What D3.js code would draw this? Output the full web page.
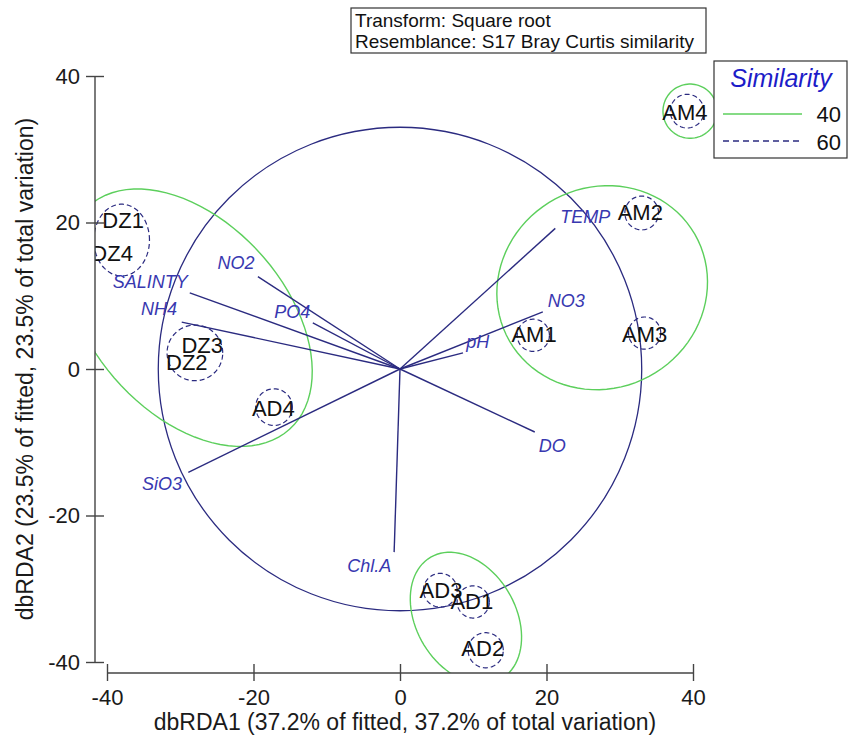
<!DOCTYPE html>
<html>
<head>
<meta charset="utf-8">
<script src="https://cdn.jsdelivr.net/npm/d3@7"></script>
<style>
  body { margin: 0; background: #fff; }
  svg { display: block; font-family: "Liberation Sans", Arial, sans-serif; }
</style>
</head>
<body>
<div id="chart"></div>
<script>
// samples (dbRDA1, dbRDA2)
var sampleNames = ["DZ1", "DZ4", "DZ3", "DZ2", "AD4", "AM1", "AM2", "AM3", "AM4", "AD3", "AD1", "AD2"];
var sampleX = [-37.8, -39.3, -27.0, -29.1, -17.3, 18.3, 32.8, 33.4, 38.9, 5.6, 9.8, 11.3];
var sampleY = [20.3, 15.8, 3.3, 1.0, -5.3, 4.8, 21.4, 4.8, 35.1, -30.2, -31.7, -38.1];

// environmental vectors
var vectorNames = ["TEMP", "NO3", "pH", "DO", "Chl.A", "SiO3", "NH4", "SALINTY", "NO2", "PO4"];
var vectorX = [21.2, 19.5, 8.6, 18.4, -0.8, -28.9, -29.8, -28.7, -19.4, -11.9];
var vectorY = [19.2, 7.8, 2.2, -8.6, -25.0, -14.1, 6.4, 10.4, 12.6, 6.3];
var vectorLabelX = [25.3, 22.7, 10.6, 20.8, -4.2, -32.5, -32.9, -34.1, -22.4, -14.7];
var vectorLabelY = [20.8, 9.4, 3.8, -10.5, -26.8, -15.7, 8.3, 11.9, 14.5, 7.9];

// correlation circle radius
var circleRadius = 33.0;

// similarity contours: centre x, centre y, semi axis a, semi axis b, angle (deg)
var sim40 = [
  [-28.8, 7.0, 20.5, 13.1, -48],
  [27.6, 11.1, 14.6, 13.7, 30],
  [9.0, -34.0, 9.6, 6.8, -60],
  [39.6, 35.2, 3.7, 3.7, 0]
];
var sim60 = [
  [-38.0, 17.6, 3.8, 4.9, 0],
  [-28.0, 2.2, 3.8, 3.8, 0],
  [-17.2, -5.2, 2.5, 2.5, 0],
  [18.2, 4.6, 2.2, 2.2, 0],
  [33.0, 21.3, 2.3, 2.3, 0],
  [33.4, 4.9, 2.2, 2.2, 0],
  [39.2, 35.2, 2.3, 2.3, 0],
  [5.5, -30.2, 2.3, 2.3, 0],
  [10.0, -31.8, 2.2, 2.2, 0],
  [11.7, -38.4, 2.4, 2.4, 0]
];

var ticks = [-40, -20, 0, 20, 40];
var legendLevels = ["40", "60"];

var W = 851, H = 738;
var green = "#5ccf5c", navy = "#2b2b80", labelBlue = "#3838b0";

var x = d3.scaleLinear().domain([-40, 40]).range([107, 693]);
var y = d3.scaleLinear().domain([-40, 40]).range([662, 76]);

var svg = d3.select("#chart").append("svg")
  .attr("width", W)
  .attr("height", H);

svg.append("clipPath").attr("id", "plotclip")
  .append("rect").attr("x", 95).attr("y", 0).attr("width", W - 95).attr("height", 673);

var plot = svg.append("g").attr("clip-path", "url(#plotclip)");

function ellipsePath(e) {
  var pts = [];
  var th = e[4] * Math.PI / 180;
  for (var i = 0; i < 90; i++) {
    var t = i / 90 * 2 * Math.PI;
    var u = e[2] * Math.cos(t), v = e[3] * Math.sin(t);
    pts.push([x(e[0] + u * Math.cos(th) - v * Math.sin(th)),
              y(e[1] + u * Math.sin(th) + v * Math.cos(th))]);
  }
  return d3.line().curve(d3.curveLinearClosed)(pts);
}

// correlation circle
plot.append("ellipse")
  .attr("cx", x(0)).attr("cy", y(0))
  .attr("rx", x(circleRadius) - x(0))
  .attr("ry", y(0) - y(circleRadius))
  .attr("fill", "none")
  .attr("stroke", navy)
  .attr("stroke-width", 1.3);

plot.selectAll("path.sim40")
  .data(sim40)
  .enter().append("path")
  .attr("class", "sim40")
  .attr("d", ellipsePath)
  .attr("fill", "none")
  .attr("stroke", green)
  .attr("stroke-width", 1.4);

plot.selectAll("path.sim60")
  .data(sim60)
  .enter().append("path")
  .attr("class", "sim60")
  .attr("d", ellipsePath)
  .attr("fill", "none")
  .attr("stroke", navy)
  .attr("stroke-width", 1.2)
  .attr("stroke-dasharray", "5,3");

// vectors
plot.selectAll("line.vec")
  .data(vectorNames)
  .enter().append("line")
  .attr("class", "vec")
  .attr("x1", x(0)).attr("y1", y(0))
  .attr("x2", function(d, i) { return x(vectorX[i]); })
  .attr("y2", function(d, i) { return y(vectorY[i]); })
  .attr("stroke", navy)
  .attr("stroke-width", 1.4);

plot.selectAll("text.vec")
  .data(vectorNames)
  .enter().append("text")
  .attr("class", "vec")
  .attr("x", function(d, i) { return x(vectorLabelX[i]); })
  .attr("y", function(d, i) { return y(vectorLabelY[i]); })
  .attr("dy", "0.36em")
  .attr("text-anchor", "middle")
  .attr("font-size", "18px")
  .attr("font-style", "italic")
  .attr("fill", labelBlue)
  .text(String);

plot.selectAll("text.sample")
  .data(sampleNames)
  .enter().append("text")
  .attr("class", "sample")
  .attr("x", function(d, i) { return x(sampleX[i]); })
  .attr("y", function(d, i) { return y(sampleY[i]); })
  .attr("dy", "0.36em")
  .attr("text-anchor", "middle")
  .attr("font-size", "22px")
  .attr("fill", "#111")
  .text(String);

// axes
var fmt = function(d) { return String(d); };

var yAxis = svg.append("g")
  .attr("transform", "translate(95,0)")
  .call(d3.axisLeft(y).tickValues(ticks).tickFormat(fmt).tickSize(9).tickPadding(6));
yAxis.selectAll(".tick line").attr("x2", -9).attr("x1", 9);
yAxis.select(".domain").attr("d", "M0," + y(40) + "V" + y(-40));

var xAxis = svg.append("g")
  .attr("transform", "translate(0,673)")
  .call(d3.axisBottom(x).tickValues(ticks).tickFormat(fmt).tickSize(8).tickPadding(4));
xAxis.selectAll(".tick line").attr("y1", -9).attr("y2", 8);
xAxis.select(".domain").attr("d", "M" + x(-40) + ",0H" + x(40));

svg.selectAll(".domain, .tick line").attr("stroke", "#444").attr("stroke-width", 1.4);
svg.selectAll(".tick text")
  .attr("font-family", "Liberation Sans, Arial, sans-serif")
  .attr("font-size", "22px")
  .attr("fill", "#1a1a1a");
xAxis.selectAll(".tick text").attr("dy", "0.9em");

svg.append("text")
  .attr("x", 405).attr("y", 730)
  .attr("text-anchor", "middle")
  .attr("font-size", "23px")
  .attr("fill", "#1a1a1a")
  .text("dbRDA1 (37.2% of fitted, 37.2% of total variation)");

svg.append("text")
  .attr("transform", "translate(33,369) rotate(-90)")
  .attr("text-anchor", "middle")
  .attr("font-size", "23px")
  .attr("fill", "#1a1a1a")
  .text("dbRDA2 (23.5% of fitted, 23.5% of total variation)");

// info box
svg.append("rect")
  .attr("x", 351).attr("y", 8).attr("width", 355).attr("height", 45)
  .attr("fill", "#fff").attr("stroke", "#333").attr("stroke-width", 1.2);
svg.append("text").attr("x", 355).attr("y", 27)
  .attr("font-size", "19px").attr("fill", "#111")
  .text("Transform: Square root");
svg.append("text").attr("x", 355).attr("y", 48)
  .attr("font-size", "19px").attr("fill", "#111")
  .text("Resemblance: S17 Bray Curtis similarity");

// legend
var lg = svg.append("g");
lg.append("rect")
  .attr("x", 714).attr("y", 61).attr("width", 133).attr("height", 97)
  .attr("fill", "#fff").attr("stroke", "#333").attr("stroke-width", 1.2);
lg.append("text")
  .attr("x", 781).attr("y", 87)
  .attr("text-anchor", "middle")
  .attr("font-size", "25px")
  .attr("font-style", "italic")
  .attr("fill", "#1c1cc8")
  .text("Similarity");
lg.selectAll("line.key")
  .data(legendLevels)
  .enter().append("line")
  .attr("class", "key")
  .attr("x1", 723).attr("x2", 802)
  .attr("y1", function(d, i) { return 114 + i * 27; })
  .attr("y2", function(d, i) { return 114 + i * 27; })
  .attr("stroke", function(d, i) { return i === 0 ? green : navy; })
  .attr("stroke-width", 1.4)
  .attr("stroke-dasharray", function(d, i) { return i === 0 ? null : "6,4"; });
lg.selectAll("text.key")
  .data(legendLevels)
  .enter().append("text")
  .attr("class", "key")
  .attr("x", 841)
  .attr("y", function(d, i) { return 114 + i * 28; })
  .attr("dy", "0.36em")
  .attr("text-anchor", "end")
  .attr("font-size", "22px")
  .attr("fill", "#111")
  .text(String);
</script>
</body>
</html>
